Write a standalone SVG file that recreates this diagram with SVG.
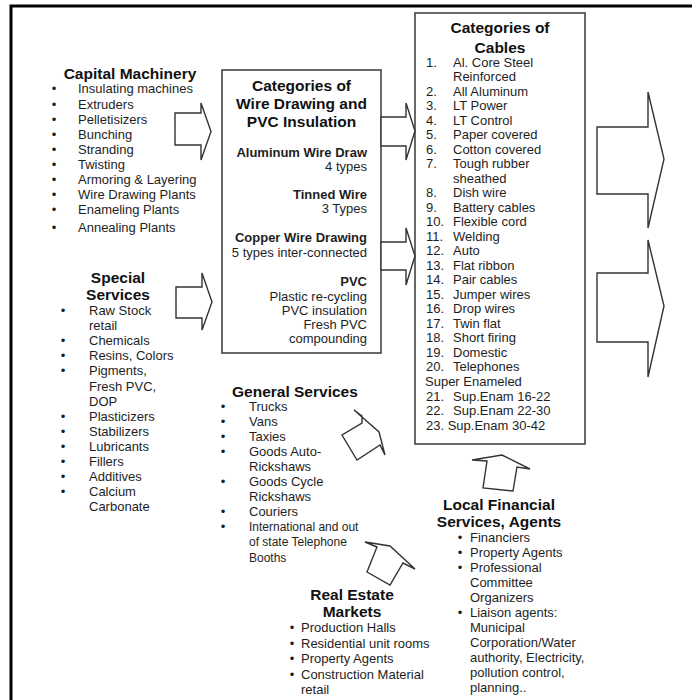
<svg xmlns="http://www.w3.org/2000/svg" width="692" height="700" viewBox="0 0 692 700">
<style>
text{font-family:"Liberation Sans",Arial,sans-serif;fill:#1e1e1e}
.t{font-size:15.5px;font-weight:bold;fill:#111}
.i{font-size:13px}
.b{font-size:13px;font-weight:bold}
.m{text-anchor:middle}
.e{text-anchor:end}
.box{fill:#fff;stroke:#444;stroke-width:1.6}
.arr{fill:#fff;stroke:#333;stroke-width:1.4;stroke-linejoin:miter}
</style>
<rect width="692" height="700" fill="#fff"/>
<path d="M11,700 V6 H692" fill="none" stroke="#000" stroke-width="3"/>

<g id="capital-machinery">
<text class="t m" x="130" y="79">Capital Machinery</text>
<g class="i">
<text x="54" y="93" class="m">•</text><text x="78" y="93">Insulating machines</text>
<text x="54" y="108.5" class="m">•</text><text x="78" y="108.5">Extruders</text>
<text x="54" y="123.5" class="m">•</text><text x="78" y="123.5">Pelletisizers</text>
<text x="54" y="138.5" class="m">•</text><text x="78" y="138.5">Bunching</text>
<text x="54" y="153.5" class="m">•</text><text x="78" y="153.5">Stranding</text>
<text x="54" y="168.5" class="m">•</text><text x="78" y="168.5">Twisting</text>
<text x="54" y="183.5" class="m">•</text><text x="78" y="183.5">Armoring &amp; Layering</text>
<text x="54" y="198.5" class="m">•</text><text x="78" y="198.5">Wire Drawing Plants</text>
<text x="54" y="213.5" class="m">•</text><text x="78" y="213.5">Enameling Plants</text>
<text x="54" y="232" class="m">•</text><text x="78" y="232">Annealing Plants</text>
</g>
</g>

<g id="special-services">
<text class="t m" x="118" y="283">Special</text>
<text class="t m" x="118" y="300">Services</text>
<g class="i">
<text x="63" y="315" class="m">•</text><text x="89" y="315">Raw Stock</text>
<text x="89" y="330.1">retail</text>
<text x="63" y="345.2" class="m">•</text><text x="89" y="345.2">Chemicals</text>
<text x="63" y="360.3" class="m">•</text><text x="89" y="360.3">Resins, Colors</text>
<text x="63" y="375.4" class="m">•</text><text x="89" y="375.4">Pigments,</text>
<text x="89" y="390.5">Fresh PVC,</text>
<text x="89" y="405.6">DOP</text>
<text x="63" y="420.7" class="m">•</text><text x="89" y="420.7">Plasticizers</text>
<text x="63" y="435.8" class="m">•</text><text x="89" y="435.8">Stabilizers</text>
<text x="63" y="450.9" class="m">•</text><text x="89" y="450.9">Lubricants</text>
<text x="63" y="466" class="m">•</text><text x="89" y="466">Fillers</text>
<text x="63" y="481.1" class="m">•</text><text x="89" y="481.1">Additives</text>
<text x="63" y="496.2" class="m">•</text><text x="89" y="496.2">Calcium</text>
<text x="89" y="511.3">Carbonate</text>
</g>
</g>

<g id="wire-drawing">
<rect class="box" x="222" y="70" width="159" height="283"/>
<text class="t m" x="301.5" y="91">Categories of</text>
<text class="t m" x="301.5" y="109">Wire Drawing and</text>
<text class="t m" x="301.5" y="127">PVC Insulation</text>
<text class="b e" x="367" y="157">Aluminum Wire Draw</text>
<text class="i e" x="367" y="171">4 types</text>
<text class="b e" x="367" y="199">Tinned Wire</text>
<text class="i e" x="367" y="213">3 Types</text>
<text class="b e" x="367" y="242">Copper Wire Drawing</text>
<text class="i e" x="367" y="257">5 types inter-connected</text>
<text class="b e" x="367" y="286">PVC</text>
<text class="i e" x="367" y="301">Plastic re-cycling</text>
<text class="i e" x="367" y="315">PVC insulation</text>
<text class="i e" x="367" y="329">Fresh PVC</text>
<text class="i e" x="367" y="343">compounding</text>
</g>

<g id="cables">
<rect class="box" x="415" y="13" width="170" height="431"/>
<text class="t m" x="500" y="33">Categories of</text>
<text class="t m" x="500" y="53">Cables</text>
<g class="i">
<text x="426" y="66.5">1.</text><text x="453" y="66.5">Al. Core Steel</text>
<text x="453" y="81">Reinforced</text>
<text x="426" y="95.5">2.</text><text x="453" y="95.5">All Aluminum</text>
<text x="426" y="110.1">3.</text><text x="453" y="110.1">LT Power</text>
<text x="426" y="124.6">4.</text><text x="453" y="124.6">LT Control</text>
<text x="426" y="139.1">5.</text><text x="453" y="139.1">Paper covered</text>
<text x="426" y="153.6">6.</text><text x="453" y="153.6">Cotton covered</text>
<text x="426" y="168.1">7.</text><text x="453" y="168.1">Tough rubber</text>
<text x="453" y="182.7">sheathed</text>
<text x="426" y="197.2">8.</text><text x="453" y="197.2">Dish wire</text>
<text x="426" y="211.7">9.</text><text x="453" y="211.7">Battery cables</text>
<text x="426" y="226.2">10.</text><text x="453" y="226.2">Flexible cord</text>
<text x="426" y="240.7">11.</text><text x="453" y="240.7">Welding</text>
<text x="426" y="255.3">12.</text><text x="453" y="255.3">Auto</text>
<text x="426" y="269.8">13.</text><text x="453" y="269.8">Flat ribbon</text>
<text x="426" y="284.3">14.</text><text x="453" y="284.3">Pair cables</text>
<text x="426" y="298.8">15.</text><text x="453" y="298.8">Jumper wires</text>
<text x="426" y="313.3">16.</text><text x="453" y="313.3">Drop wires</text>
<text x="426" y="327.9">17.</text><text x="453" y="327.9">Twin flat</text>
<text x="426" y="342.4">18.</text><text x="453" y="342.4">Short firing</text>
<text x="426" y="356.9">19.</text><text x="453" y="356.9">Domestic</text>
<text x="426" y="371.4">20.</text><text x="453" y="371.4">Telephones</text>
<text x="425" y="385.9">Super Enameled</text>
<text x="426" y="400.5">21.</text><text x="453" y="400.5">Sup.Enam 16-22</text>
<text x="426" y="415">22.</text><text x="453" y="415">Sup.Enam 22-30</text>
<text x="426" y="429.5">23. Sup.Enam 30-42</text>
</g>
</g>

<g id="general-services">
<text class="t" x="232" y="397">General Services</text>
<g class="i">
<text x="223" y="410.5" class="m">•</text><text x="249" y="410.5">Trucks</text>
<text x="223" y="425.6" class="m">•</text><text x="249" y="425.6">Vans</text>
<text x="223" y="440.7" class="m">•</text><text x="249" y="440.7">Taxies</text>
<text x="223" y="455.8" class="m">•</text><text x="249" y="455.8">Goods Auto-</text>
<text x="249" y="470.9">Rickshaws</text>
<text x="223" y="486" class="m">•</text><text x="249" y="486">Goods Cycle</text>
<text x="249" y="501.1">Rickshaws</text>
<text x="223" y="516.2" class="m">•</text><text x="249" y="516.2">Couriers</text>
<text x="223" y="531.3" class="m">•</text><text x="249" y="531.3" style="font-size:12px">International and out</text>
<text x="249" y="546.4" style="font-size:12px">of state Telephone</text>
<text x="249" y="561.5" style="font-size:12px">Booths</text>
</g>
</g>

<g id="local-financial">
<text class="t m" x="499" y="510">Local Financial</text>
<text class="t m" x="499" y="527">Services, Agents</text>
<g class="i">
<text x="460" y="542" class="m">•</text><text x="470" y="542">Financiers</text>
<text x="460" y="557" class="m">•</text><text x="470" y="557">Property Agents</text>
<text x="460" y="572" class="m">•</text><text x="470" y="572">Professional</text>
<text x="470" y="587">Committee</text>
<text x="470" y="602">Organizers</text>
<text x="460" y="617" class="m">•</text><text x="470" y="617">Liaison agents:</text>
<text x="470" y="632">Municipal</text>
<text x="470" y="647">Corporation/Water</text>
<text x="470" y="662">authority, Electricity,</text>
<text x="470" y="677">pollution control,</text>
<text x="470" y="692">planning..</text>
</g>
</g>

<g id="real-estate">
<text class="t m" x="352" y="600">Real Estate</text>
<text class="t m" x="352" y="617">Markets</text>
<g class="i">
<text x="292" y="632" class="m">•</text><text x="301" y="632">Production Halls</text>
<text x="292" y="647.6" class="m">•</text><text x="301" y="647.6">Residential unit rooms</text>
<text x="292" y="663.2" class="m">•</text><text x="301" y="663.2">Property Agents</text>
<text x="292" y="678.8" class="m">•</text><text x="301" y="678.8">Construction Material</text>
<text x="301" y="694.4">retail</text>
</g>
</g>

<g id="connectors">
<polygon class="arr" points="175,113 201,113 201,103 211,131.5 201,160 201,145 175,145"/>
<polygon class="arr" points="176,287 202,287 202,273 212,302 202,330 202,318 176,318"/>
<polygon class="arr" points="381,117 406,117 406,103 415,131 406,160 406,146 381,146"/>
<polygon class="arr" points="381,242 406,242 406,228 415,256 406,285 406,270 381,270"/>
<polygon class="arr" points="597,127 648,127 648,92 664,159 648,228 648,194 597,194"/>
<polygon class="arr" points="597,273 648,273 648,240 664,306 648,377 648,342 597,342"/>
<polygon class="arr" points="354,410 379,432 385,455 380,445 357,460 342,435 362,423 362,416"/>
<polygon class="arr" points="365,542 390,546 415,569 403,563 390,585 367,572 377,547"/>
<polygon class="arr" points="472,460 502,455 530,469 517,467 513,491 483,488 487,461"/>
</g>
</svg>
